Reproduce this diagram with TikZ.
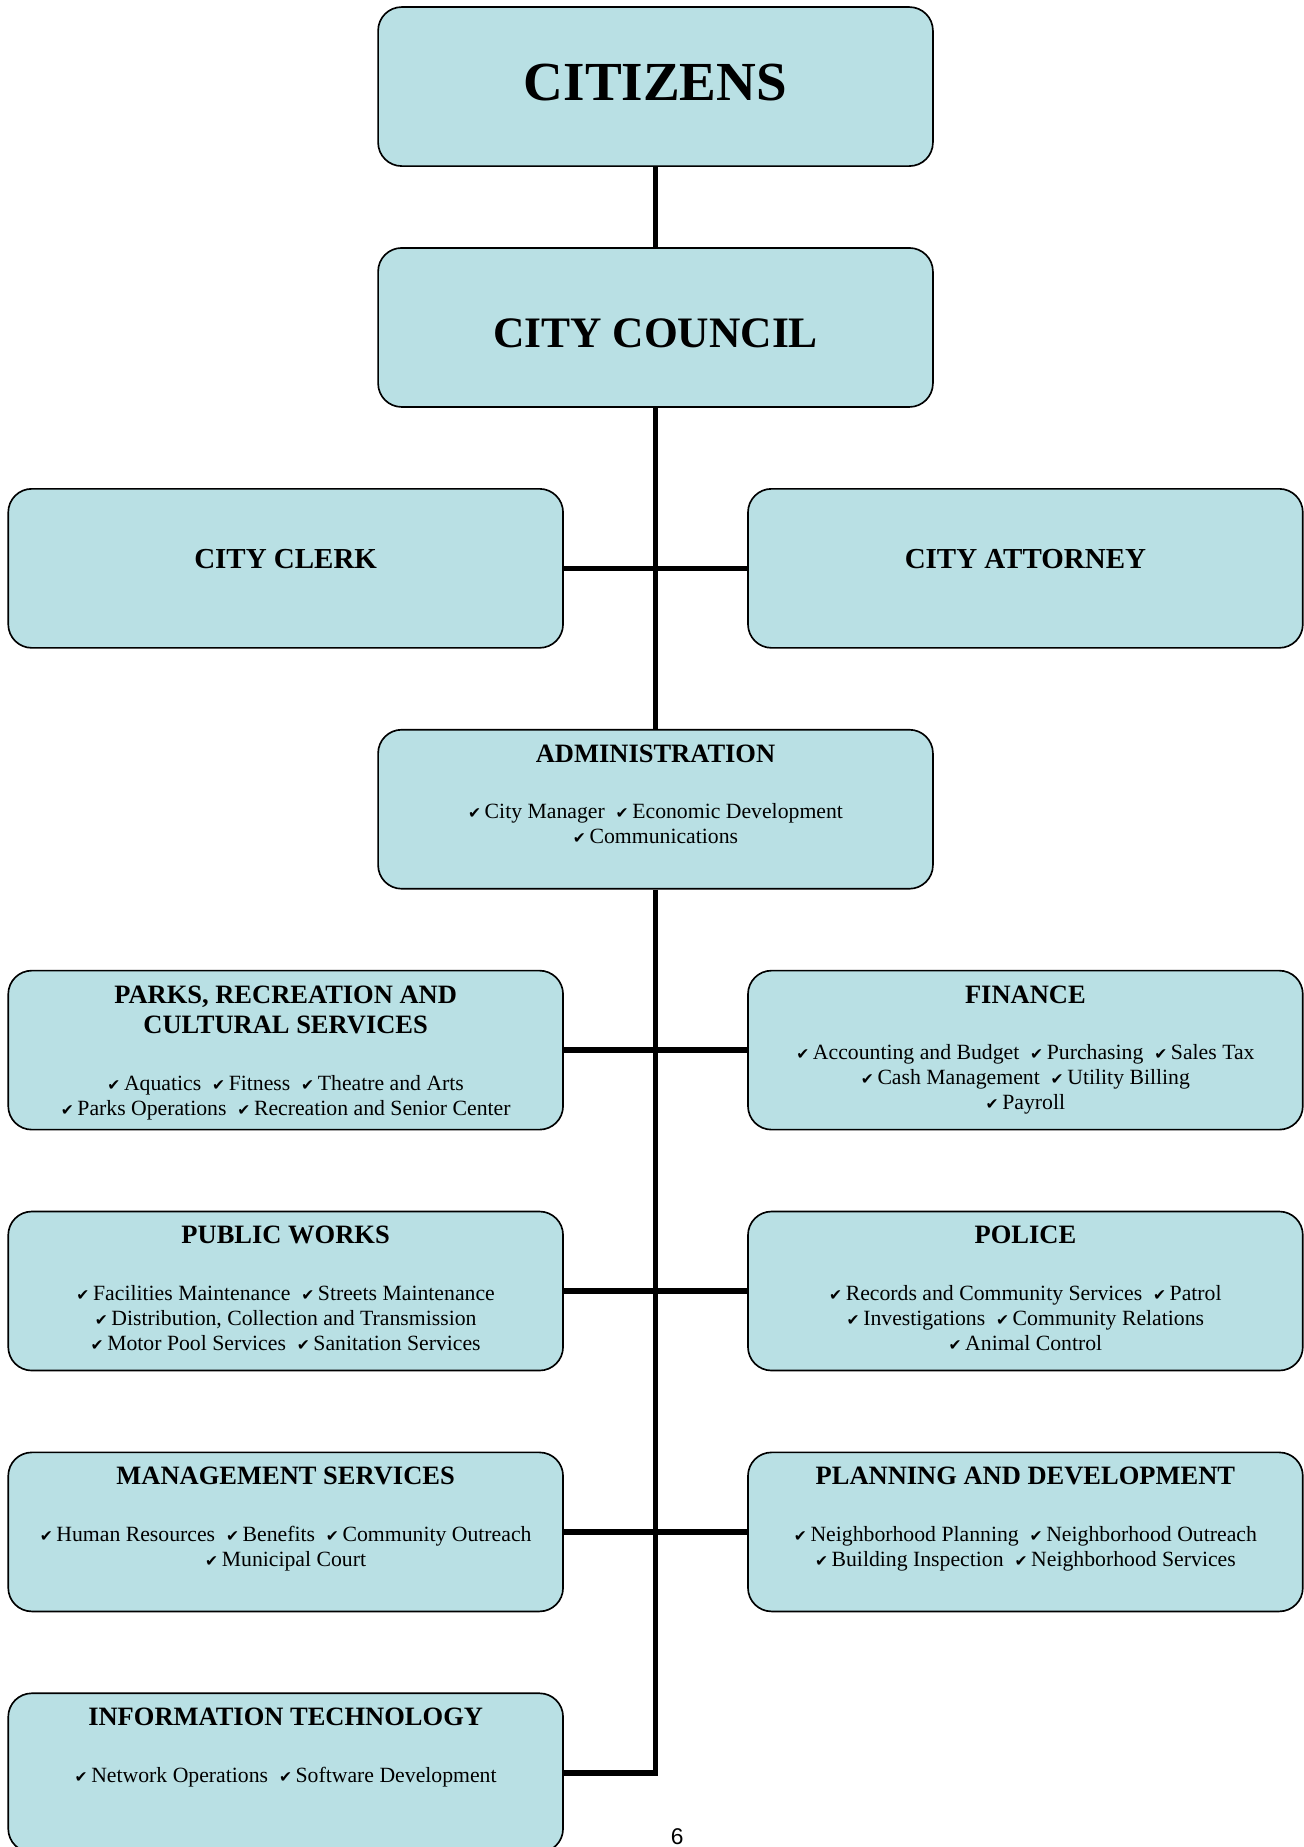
\documentclass[tikz,border=0pt]{standalone}
\usepackage{fontspec}
\setmainfont{Liberation Serif}
\newfontfamily\chkfont{DejaVu Sans}
\newfontfamily\pagefont{Liberation Sans}
\definecolor{boxblue}{RGB}{185,224,228}
\newcommand{\chk}{{\chkfont\fontsize{7.5}{8}\selectfont ✔}\,}
\newcommand{\dhead}[1]{{\fontsize{12.8}{14.8}\selectfont\bfseries #1}}

\begin{document}
\begin{tikzpicture}[
    dept/.style={draw=black, fill=boxblue, rounded corners=0.4cm,
        minimum width=9.42cm, minimum height=2.7cm, line width=0.8pt},
    depttext/.style={anchor=north, align=center, inner sep=0pt,
        font=\fontsize{10.5}{12.2}\selectfont},
    toptitle/.style={inner sep=0pt, font=\fontsize{26.6}{30}\selectfont\bfseries},
    title/.style={inner sep=0pt, font=\fontsize{14}{16}\selectfont\bfseries},
    link/.style={line width=2.6pt}
]
    \useasboundingbox (0,0) rectangle (22.14,-31.36);
    \clip (0,0) rectangle (22.14,-31.36);

    % boxes
    \node[dept] (citizens) at (11.13,-1.47) {};
    \node[dept] (council)  at (11.13,-5.56) {};
    \node[dept] (clerk)    at (4.85,-9.65) {};
    \node[dept] (attorney) at (17.41,-9.65) {};
    \node[dept] (admin)    at (11.13,-13.74) {};
    \node[dept] (parks)    at (4.85,-17.83) {};
    \node[dept] (finance)  at (17.41,-17.83) {};
    \node[dept] (works)    at (4.85,-21.92) {};
    \node[dept] (police)   at (17.41,-21.92) {};
    \node[dept] (mgmt)     at (4.85,-26.01) {};
    \node[dept] (planning) at (17.41,-26.01) {};
    \node[dept] (infotech) at (4.85,-30.10) {};

    % links
    \draw[link] (citizens.south) -- (council.north);
    \draw[link] (council.south) -- (admin.north);
    \draw[link] (clerk.east) -- (attorney.west);
    \draw[link] (admin.south) |- (infotech.east);
    \draw[link] (parks.east) -- (finance.west);
    \draw[link] (works.east) -- (police.west);
    \draw[link] (mgmt.east) -- (planning.west);

    % titles
    \node[toptitle] (citizenstxt) at ([yshift=0.07cm]citizens.center) {CITIZENS};
    \node[toptitle, font=\fontsize{21}{24}\selectfont\bfseries] (counciltxt)
        at ([yshift=-0.1cm]council.center) {CITY COUNCIL};
    \node[title] (clerktxt) at ([yshift=0.15cm]clerk.center) {CITY CLERK};
    \node[title] (attorneytxt) at ([yshift=0.15cm]attorney.center) {CITY ATTORNEY};

    % departments
    \node[depttext] (admintxt) at ([yshift=-0.26cm]admin.north)
        {\dhead{ADMINISTRATION}\\[15pt]
         \chk City Manager\enspace\chk Economic Development\\
         \chk Communications};
    \node[depttext] (parkstxt) at ([yshift=-0.26cm]parks.north)
        {\dhead{PARKS, RECREATION AND}\\[2.6pt]
         \dhead{CULTURAL SERVICES}\\[15pt]
         \chk Aquatics\enspace\chk Fitness\enspace\chk Theatre and Arts\\
         \chk Parks Operations\enspace\chk Recreation and Senior Center};
    \node[depttext] (financetxt) at ([yshift=-0.26cm]finance.north)
        {\dhead{FINANCE}\\[15pt]
         \chk Accounting and Budget\enspace\chk Purchasing\enspace\chk Sales Tax\\
         \chk Cash Management\enspace\chk Utility Billing\\
         \chk Payroll};
    \node[depttext] (workstxt) at ([yshift=-0.26cm]works.north)
        {\dhead{PUBLIC WORKS}\\[15pt]
         \chk Facilities Maintenance\enspace\chk Streets Maintenance\\
         \chk Distribution, Collection and Transmission\\
         \chk Motor Pool Services\enspace\chk Sanitation Services};
    \node[depttext] (policetxt) at ([yshift=-0.26cm]police.north)
        {\dhead{POLICE}\\[15pt]
         \chk Records and Community Services\enspace\chk Patrol\\
         \chk Investigations\enspace\chk Community Relations\\
         \chk Animal Control};
    \node[depttext] (mgmttxt) at ([yshift=-0.26cm]mgmt.north)
        {\dhead{MANAGEMENT SERVICES}\\[15pt]
         \chk Human Resources\enspace\chk Benefits\enspace\chk Community Outreach\\
         \chk Municipal Court};
    \node[depttext] (planningtxt) at ([yshift=-0.26cm]planning.north)
        {\dhead{PLANNING AND DEVELOPMENT}\\[15pt]
         \chk Neighborhood Planning\enspace\chk Neighborhood Outreach\\
         \chk Building Inspection\enspace\chk Neighborhood Services};
    \node[depttext] (infotechtxt) at ([yshift=-0.26cm]infotech.north)
        {\dhead{INFORMATION TECHNOLOGY}\\[15pt]
         \chk Network Operations\enspace\chk Software Development};

    % page number
    \node[anchor=south, inner sep=0pt, font=\pagefont\fontsize{11}{13}\selectfont]
        (pagenum) at (11.5,-31.33) {6};

\end{tikzpicture}
\end{document}
